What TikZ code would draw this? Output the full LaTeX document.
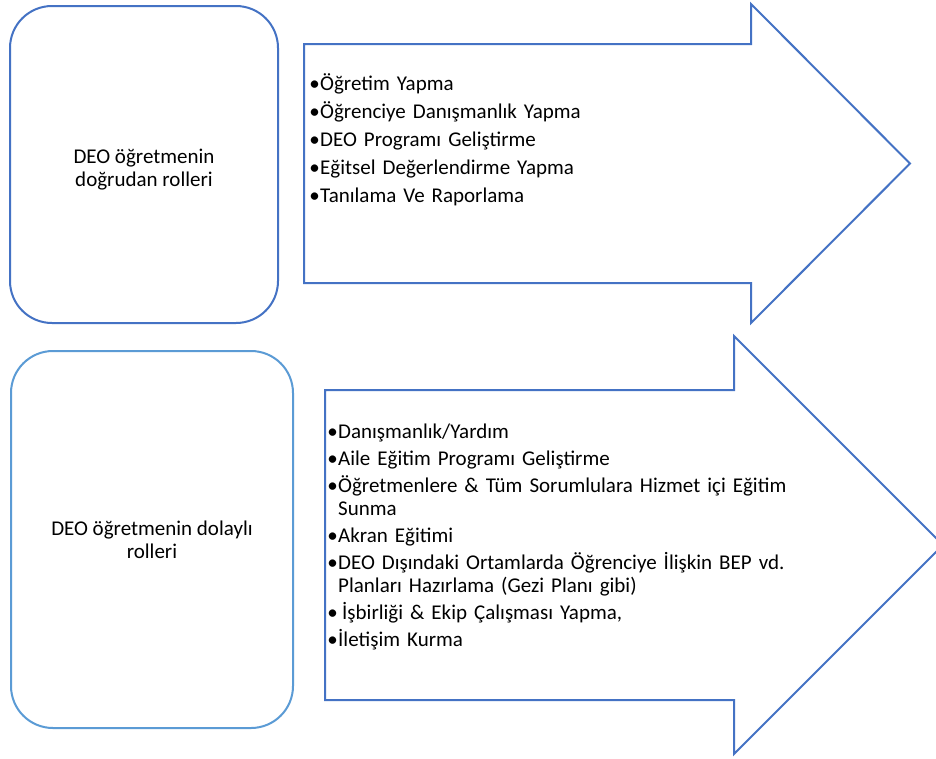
\documentclass[tikz,border=0pt]{standalone}
\usepackage{fontspec}
\setmainfont{Carlito}
\definecolor{darkblue}{HTML}{4472C4}
\definecolor{lightblue}{HTML}{5B9BD5}
\newcommand{\itm}[2][11pt]{\par\hangindent=#1\hangafter=1\noindent\makebox[#1][c]{•}\rule{0pt}{18pt}#2}
\newcommand{\wrapline}{\hfil\break}
\begin{document}
\begin{tikzpicture}[x=1pt,y=-1pt,
  rolebox/.style={draw=#1, line width=2pt, rounded corners=42pt, inner sep=0pt},
  bigarrow/.style={draw=darkblue, line width=2pt, line join=miter},
  boxtext/.style={font=\fontsize{21}{23}\selectfont, align=center, inner sep=0pt},
  listtext/.style={font=\fontsize{21}{23}\selectfont, text width=540pt, align=left, inner sep=0pt, anchor=north west}]
\useasboundingbox (0,0) rectangle (936,758);
\clip (0,0) rectangle (936,758);
\fill[white] (0,0) rectangle (936,758);
% top row
\node[rolebox=darkblue, minimum width=268pt, minimum height=317pt] (direct) at (144,164.5) {};
\node[boxtext] (directlabel) at (144,170) {DEO öğretmenin\\doğrudan rolleri};
\draw[bigarrow] (304,44) -- (751,44) -- (751,4) -- (910,163.5) -- (751,323) -- (751,283) -- (304,283) -- cycle;
\node[listtext] (directlist) at (309,62) {\raggedright\setlength{\parskip}{5pt}%
\itm{Öğretim Yapma}
\itm{Öğrenciye Danışmanlık Yapma}
\itm{DEO Programı Geliştirme}
\itm{Eğitsel Değerlendirme Yapma}
\itm{Tanılama Ve Raporlama}};
% bottom row
\node[rolebox=lightblue, minimum width=282pt, minimum height=377pt] (indirect) at (152,539.5) {};
\node[boxtext] (indirectlabel) at (152,540) {DEO öğretmenin dolaylı\\rolleri};
\draw[bigarrow] (325,390) -- (734,390) -- (734,336) -- (943,545) -- (734,754) -- (734,700) -- (325,700) -- cycle;
\node[listtext] (indirectlist) at (327,411) {\raggedright\setlength{\parskip}{4pt}%
\itm{Danışmanlık/Yardım}
\itm{Aile Eğitim Programı Geliştirme}
\itm{Öğretmenlere \& Tüm Sorumlulara Hizmet içi Eğitim\wrapline Sunma}
\itm{Akran Eğitimi}
\itm{DEO Dışındaki Ortamlarda Öğrenciye İlişkin BEP vd.\wrapline Planları Hazırlama (Gezi Planı gibi)}
\itm{\hspace{4pt}İşbirliği \& Ekip Çalışması Yapma,}
\itm{İletişim Kurma}};
\end{tikzpicture}
\end{document}
